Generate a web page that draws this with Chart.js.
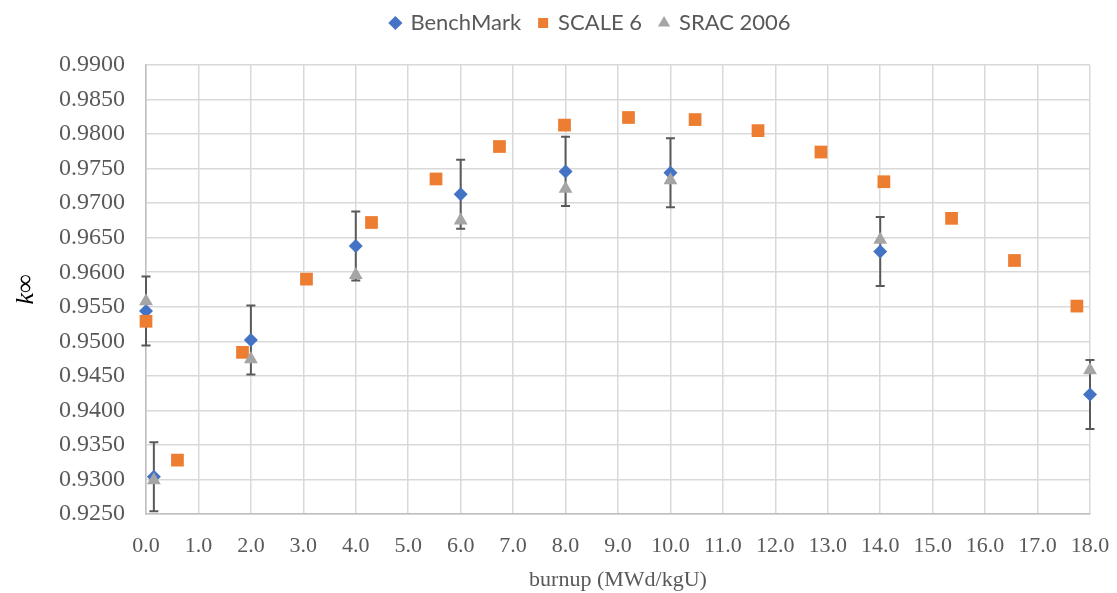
<!DOCTYPE html>
<html>
<head>
<meta charset="utf-8">
<script src="https://cdn.jsdelivr.net/npm/chart.js@4.4.1/dist/chart.umd.min.js"></script>
<style>
  html, body { margin: 0; padding: 0; background: #ffffff; }
  #wrap { width: 1117px; height: 593px; }
</style>
</head>
<body>
<div id="wrap"><canvas id="chart" width="1117" height="593"></canvas></div>
<script>
// Burnup (MWd/kgU) and k-infinity values for each series
const benchBurnup = [0, 0.15, 2, 4, 6, 8, 10, 14, 18];
const benchK      = [0.9544, 0.9304, 0.9502, 0.9638, 0.9713, 0.9746, 0.9744, 0.9630, 0.9423];
const benchErr    = [0.005, 0.005, 0.005, 0.005, 0.005, 0.005, 0.005, 0.005, 0.005];

const scaleBurnup = [0, 0.6, 1.84, 3.06, 4.30, 5.53, 6.74, 7.98, 9.20, 10.47, 11.67, 12.87, 14.07, 15.36, 16.56, 17.75];
const scaleK      = [0.9529, 0.9328, 0.9484, 0.9590, 0.9672, 0.9735, 0.9782, 0.9813, 0.9824, 0.9821, 0.9805, 0.9774, 0.9731, 0.9678, 0.9617, 0.9551];

const sracBurnup = [0, 0.15, 2, 4, 6, 8, 10, 14, 18];
const sracK      = [0.9558, 0.9299, 0.9474, 0.9596, 0.9675, 0.9721, 0.9733, 0.9647, 0.9458];

const seriesNames = ['BenchMark', 'SCALE 6', 'SRAC 2006'];

const toPoints = (xs, ys) => xs.map((x, i) => ({ x: x, y: ys[i] }));

// Error bars for the benchmark series, drawn through the chart scales
const errorBars = {
  id: 'errorBars',
  beforeDatasetsDraw(chart) {
    const xs = chart.scales.x, ys = chart.scales.y, ctx = chart.ctx;
    ctx.save();
    ctx.strokeStyle = '#595959';
    ctx.lineWidth = 2;
    benchBurnup.forEach((b, i) => {
      const px = xs.getPixelForValue(b);
      const top = ys.getPixelForValue(benchK[i] + benchErr[i]);
      const bot = ys.getPixelForValue(benchK[i] - benchErr[i]);
      ctx.beginPath();
      ctx.moveTo(px, top); ctx.lineTo(px, bot);
      ctx.moveTo(px - 4.5, top); ctx.lineTo(px + 4.5, top);
      ctx.moveTo(px - 4.5, bot); ctx.lineTo(px + 4.5, bot);
      ctx.stroke();
    });
    ctx.restore();
  }
};

// Legend: reserve a fixed band above the plot, then lift and centre the row
const legendPlacement = {
  id: 'legendPlacement',
  beforeInit(chart) {
    const legend = chart.legend;
    if (!legend) return;
    const fit = legend.fit;
    legend.fit = function () {
      fit.call(this);
      this.height = 57;
    };
  },
  afterLayout(chart) {
    const legend = chart.legend;
    if (!legend) return;
    legend.left += 46; legend.right += 46;
    legend.top -= 14; legend.bottom -= 14;
  }
};

const serif = "'Liberation Serif', 'Times New Roman', serif";

new Chart(document.getElementById('chart'), {
  type: 'scatter',
  data: {
    datasets: [
      {
        label: seriesNames[0],
        data: toPoints(benchBurnup, benchK),
        pointStyle: 'rectRot',
        pointRadius: 7,
        pointHoverRadius: 7,
        backgroundColor: '#4472C4',
        borderColor: '#4472C4',
        borderWidth: 0,
        clip: false,
        order: 3
      },
      {
        label: seriesNames[1],
        data: toPoints(scaleBurnup, scaleK),
        pointStyle: 'rect',
        pointRadius: 9,
        pointHoverRadius: 9,
        backgroundColor: '#ED7D31',
        borderColor: '#ED7D31',
        borderWidth: 0,
        clip: false,
        order: 2
      },
      {
        label: seriesNames[2],
        data: toPoints(sracBurnup, sracK),
        pointStyle: 'triangle',
        pointRadius: 8,
        pointHoverRadius: 8,
        backgroundColor: '#A5A5A5',
        borderColor: '#A5A5A5',
        borderWidth: 0,
        clip: false,
        order: 1
      }
    ]
  },
  options: {
    responsive: false,
    animation: false,
    devicePixelRatio: 1,
    layout: { padding: { left: 0, right: 27, top: 8, bottom: 0 } },
    plugins: {
      tooltip: { enabled: false },
      legend: {
        position: 'top',
        labels: {
          usePointStyle: true,
          boxHeight: 10,
          boxWidth: 8,
          padding: 18,
          color: '#595959',
          font: { family: "Lato, 'Open Sans', sans-serif", size: 22 },
          sort: (a, b) => a.datasetIndex - b.datasetIndex
        }
      }
    },
    scales: {
      x: {
        type: 'linear',
        min: 0,
        max: 18,
        afterFit(scale) {
          scale.height = 79;
          scale.paddingLeft = 0;
          scale.paddingRight = 0;
        },
        ticks: {
          stepSize: 1,
          padding: 19,
          color: '#595959',
          font: { family: serif, size: 22 },
          callback: v => Number(v).toFixed(1)
        },
        grid: { color: '#D9D9D9', lineWidth: 1.5, drawTicks: false },
        border: { color: '#BFBFBF', width: 1.5 },
        title: {
          display: true,
          text: 'burnup (MWd/kgU)',
          color: '#595959',
          font: { family: serif, size: 22 },
          padding: { top: 4, bottom: 0 }
        }
      },
      y: {
        type: 'linear',
        min: 0.925,
        max: 0.99,
        afterFit(scale) { scale.width = 146; },
        ticks: {
          stepSize: 0.005,
          padding: 21,
          color: '#595959',
          font: { family: serif, size: 24 },
          callback: v => Number(v).toFixed(4)
        },
        grid: { color: '#D9D9D9', lineWidth: 1.5, drawTicks: false },
        border: { color: '#BFBFBF', width: 1.5 },
        title: {
          display: true,
          text: 'k∞',
          color: '#000000',
          font: { family: serif, size: 26, style: 'italic' },
          padding: { top: 11, bottom: 0 }
        }
      }
    }
  },
  plugins: [errorBars, legendPlacement]
});
</script>
</body>
</html>
